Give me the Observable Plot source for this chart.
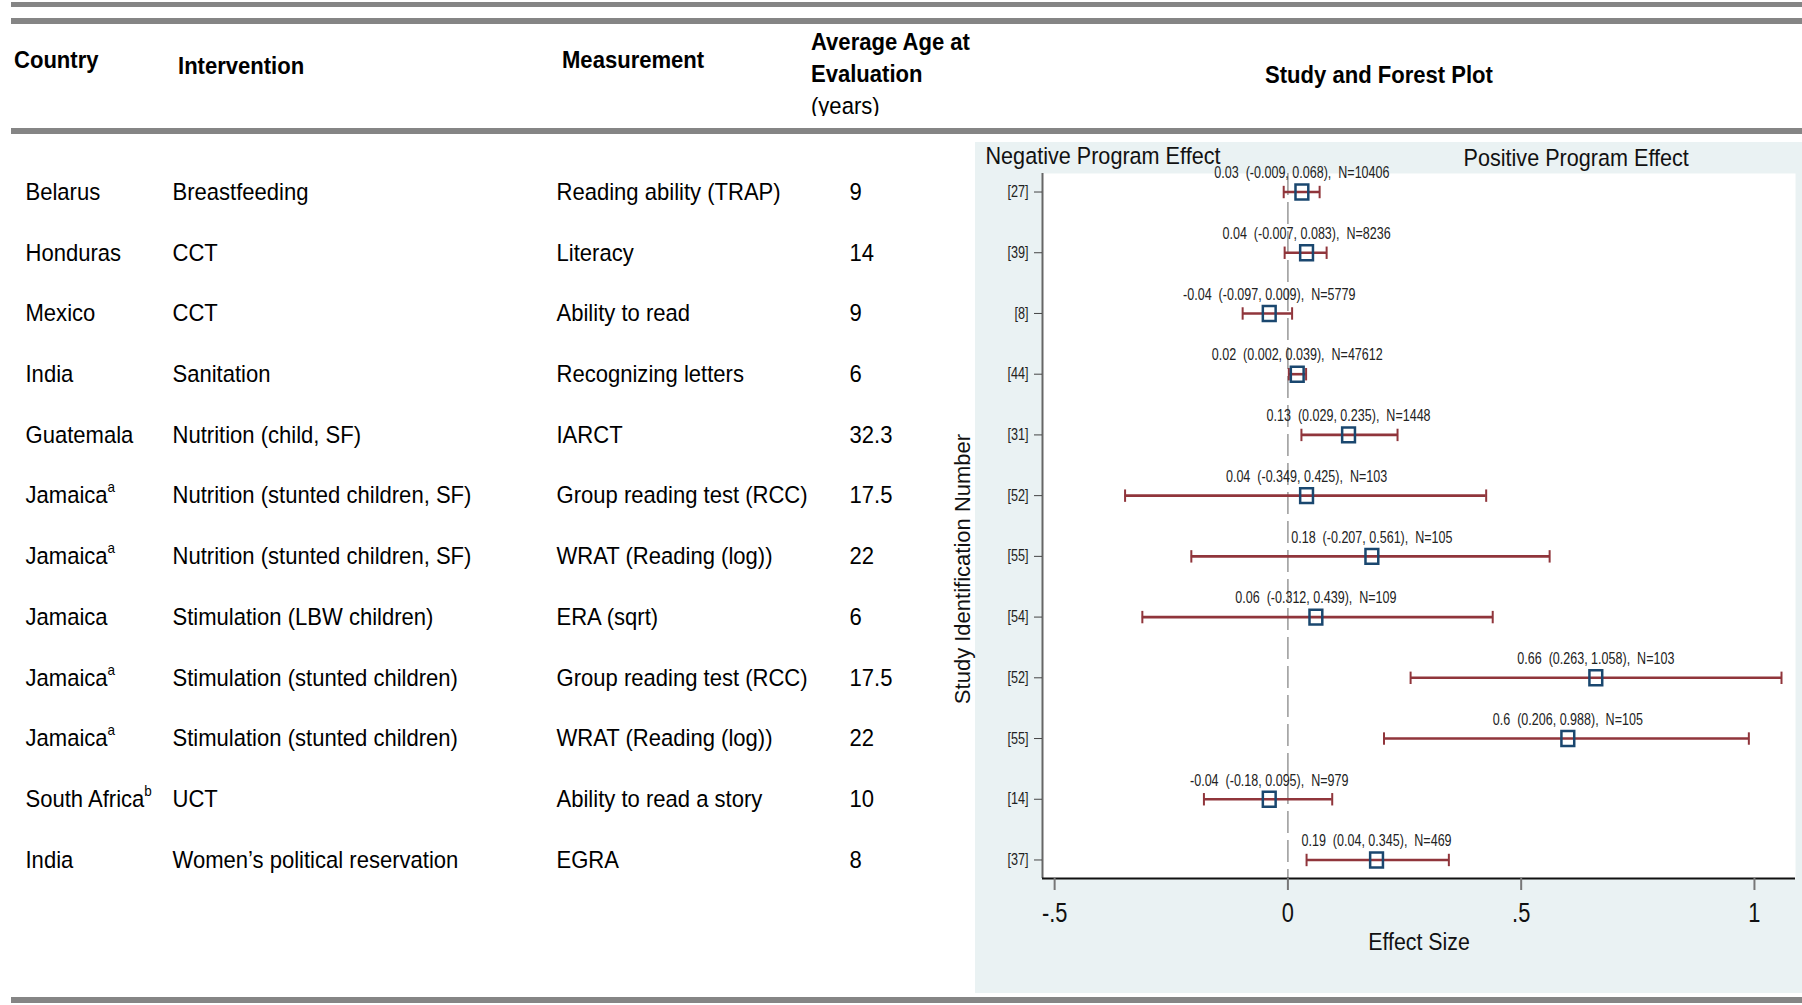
<!DOCTYPE html>
<html><head><meta charset="utf-8">
<script src="https://cdn.jsdelivr.net/npm/d3@7"></script>
<script src="https://cdn.jsdelivr.net/npm/@observablehq/plot@0.6"></script>
<style>
html,body{margin:0;padding:0;background:#fff;}
#page{position:relative;width:1802px;height:1005px;overflow:hidden;font-family:"Liberation Sans",Arial,sans-serif;color:#000;}
.rule{position:absolute;left:11px;width:1791px;background:#858585;}
.hd{position:absolute;font-weight:bold;font-size:24.5px;white-space:nowrap;line-height:24px;transform:scaleX(0.9);transform-origin:0 50%;}
.hd.reg{font-weight:normal;}
.clip{position:absolute;overflow:hidden;}
#panelbg{position:absolute;left:975px;top:142px;width:827px;height:851px;background:#EAF2F3;}
#table,#forest{position:absolute;top:142px;}
#table{left:0;width:940px;}
#forest{left:940px;width:862px;}
</style></head><body>
<div id="page">
  <div id="panelbg"></div>
  <div id="table"></div>
  <div id="forest"></div>
  <div class="hd" style="left:14px;top:48px;">Country</div>
  <div class="hd" style="left:178px;top:54px;">Intervention</div>
  <div class="hd" style="left:562px;top:48px;">Measurement</div>
  <div class="hd" style="left:811px;top:30px;">Average Age at</div>
  <div class="hd" style="left:811px;top:62px;">Evaluation</div>
  <div class="clip" style="left:805px;top:88px;width:120px;height:28px;">
    <div class="hd reg" style="left:6px;top:6px;">(years)</div>
  </div>
  <div class="hd" style="left:1379px;top:63px;transform:translateX(-50%) scaleX(0.9);transform-origin:50% 50%;">Study and Forest Plot</div>
  <div class="rule" style="top:2px;height:5px;"></div>
  <div class="rule" style="top:18px;height:6px;"></div>
  <div class="rule" style="top:128px;height:6px;"></div>
  <div class="rule" style="top:997px;height:6px;"></div>
</div>
<script>
// ---------------- data ----------------
const countries = ["Belarus","Honduras","Mexico","India","Guatemala","Jamaica","Jamaica","Jamaica","Jamaica","Jamaica","South Africa","India"];
const countryNotes = ["","","","","","a","a","","a","a","b",""];
const interventions = ["Breastfeeding","CCT","CCT","Sanitation","Nutrition (child, SF)","Nutrition (stunted children, SF)","Nutrition (stunted children, SF)","Stimulation (LBW children)","Stimulation (stunted children)","Stimulation (stunted children)","UCT","Women\u2019s political reservation"];
const measurements = ["Reading ability (TRAP)","Literacy","Ability to read","Recognizing letters","IARCT","Group reading test (RCC)","WRAT (Reading (log))","ERA (sqrt)","Group reading test (RCC)","WRAT (Reading (log))","Ability to read a story","EGRA"];
const ages = ["9","14","9","6","32.3","17.5","22","6","17.5","22","10","8"];
const studyIds = ["[27]","[39]","[8]","[44]","[31]","[52]","[55]","[54]","[52]","[55]","[14]","[37]"];
const effects = [0.03,0.04,-0.04,0.02,0.13,0.04,0.18,0.06,0.66,0.6,-0.04,0.19];
const ciLow  = [-0.009,-0.007,-0.097,0.002,0.029,-0.349,-0.207,-0.312,0.263,0.206,-0.18,0.04];
const ciHigh = [0.068,0.083,0.009,0.039,0.235,0.425,0.561,0.439,1.058,0.988,0.095,0.345];
const sampleN = [10406,8236,5779,47612,1448,103,105,109,103,105,979,469];
const xTicks = [-0.5,0,0.5,1];
const xTickLabels = ["-.5","0",".5","1"];

// ---------------- build ----------------
const rows = countries.map((c,i)=>({
  i, country: countryNotes[i] ? c + "^" + countryNotes[i] : c,
  intervention: interventions[i], measurement: measurements[i], age: ages[i],
  est: effects[i], lo: ciLow[i], hi: ciHigh[i], n: sampleN[i],
  label: `${effects[i]}\u00A0\u00A0(${ciLow[i]}, ${ciHigh[i]}),\u00A0\u00A0N=${sampleN[i]}`
}));

const SANS = '"Liberation Sans",Arial,sans-serif';
const MAROON = "#90353B", NAVY = "#1A476F";
const H = 851, MT = 31, MB = 115;
const pad = 0.305;
const yDomain = [-pad, rows.length - 1 + pad];
const xDomain = [-0.526, 1.088];

const vbar = {draw(ctx, size){ const h = Math.sqrt(size)/2; ctx.moveTo(0,-h); ctx.lineTo(0,h); }};
const box = {draw(ctx, size){ const s = Math.sqrt(size); ctx.rect(-s*0.43, -s*0.5, s*0.86, s); }};

// horizontally condense svg texts (about their anchor) according to their font size
function condense(svg, factors){
  svg.querySelectorAll("text").forEach(el => {
    const fs = parseFloat(getComputedStyle(el).fontSize);
    const s = factors[fs];
    if (!s) return;
    const bb = el.getBBox();
    const anchor = getComputedStyle(el).textAnchor;
    const ax = anchor === "middle" ? bb.x + bb.width/2 : anchor === "end" ? bb.x + bb.width : bb.x;
    const prev = el.getAttribute("transform") || "";
    el.setAttribute("transform", `${prev} translate(${ax},0) scale(${s},1) translate(${-ax},0)`);
  });
}

// table
const colStyle = {y: "i", frameAnchor: "left", textAnchor: "start", lineAnchor: "middle", fontSize: 24.5, fontFamily: SANS, fill: "#000"};
const table = Plot.plot({
  width: 940, height: H, marginTop: MT, marginBottom: MB, marginLeft: 0, marginRight: 0,
  style: {background: "transparent", fontFamily: SANS, overflow: "visible"},
  y: {domain: yDomain, reverse: true, axis: null},
  marks: [
    Plot.text(rows, {...colStyle, text: "country", dx: 25}),
    Plot.text(rows, {...colStyle, text: "intervention", dx: 172}),
    Plot.text(rows, {...colStyle, text: "measurement", dx: 556}),
    Plot.text(rows, {...colStyle, text: "age", dx: 849})
  ]
});
d3.select(table).selectAll("text").each(function(){
  const t = this.textContent;
  if (t.includes("^")) {
    const [base, sup] = t.split("^");
    this.textContent = base;
    const ts = document.createElementNS("http://www.w3.org/2000/svg","tspan");
    ts.setAttribute("dy","-11"); ts.setAttribute("font-size","15"); ts.textContent = sup;
    this.appendChild(ts);
  }
});
document.getElementById("table").appendChild(table);
condense(table, {24.5: 0.9});

// forest
const forest = Plot.plot({
  width: 862, height: H, marginTop: MT, marginBottom: MB, marginLeft: 102, marginRight: 7,
  style: {background: "transparent", fontFamily: SANS, overflow: "visible", color: "#111"},
  x: {domain: xDomain},
  y: {domain: yDomain, reverse: true},
  marks: [
    Plot.frame({fill: "white", stroke: "none"}),
    Plot.ruleX([0], {stroke: "#999", strokeWidth: 1.5, strokeDasharray: "22,7"}),
    Plot.ruleY(rows, {y: "i", x1: "lo", x2: "hi", stroke: MAROON, strokeWidth: 2.6}),
    Plot.dot(rows, {x: "lo", y: "i", symbol: vbar, r: 7, stroke: MAROON, strokeWidth: 2}),
    Plot.dot(rows, {x: "hi", y: "i", symbol: vbar, r: 7, stroke: MAROON, strokeWidth: 2}),
    Plot.dot(rows, {x: "est", y: "i", symbol: box, r: 8.4, stroke: NAVY, strokeWidth: 2.5, fill: "none"}),
    Plot.text(rows, {x: "est", y: "i", text: "label", dy: -19, lineAnchor: "middle", fontSize: 16.5, fill: "#222"}),
    Plot.ruleX([xDomain[0]], {stroke: "#666", strokeWidth: 2}),
    Plot.ruleY([yDomain[1]], {stroke: "#111", strokeWidth: 2}),
    Plot.axisY({ticks: rows.map(d => d.i), tickFormat: d => studyIds[d], tickSize: 8, tickPadding: 6,
      fontSize: 16, stroke: "#444", fill: "#222", label: null}),
    Plot.axisX({ticks: xTicks, tickFormat: d => xTickLabels[xTicks.indexOf(d)], tickSize: 12, tickPadding: 12,
      fontSize: 28, stroke: "#777", strokeWidth: 2, fill: "#111", label: null}),
    Plot.text(["Effect Size"], {text: d => d, frameAnchor: "bottom", lineAnchor: "middle", dy: 64, fontSize: 24, fill: "#111"}),
    Plot.text(["Study Identification Number"], {text: d => d, frameAnchor: "left", textAnchor: "middle", lineAnchor: "middle", rotate: -90, dx: -80, dy: 43, fontSize: 22, fill: "#111"}),
    Plot.text(["Negative Program Effect"], {text: d => d, frameAnchor: "top-left", textAnchor: "start", lineAnchor: "middle", dx: -57, dy: -17, fontSize: 23.5, fill: "#111"}),
    Plot.text(["Positive Program Effect"], {text: d => d, frameAnchor: "top-left", textAnchor: "start", lineAnchor: "middle", dx: 421, dy: -15, fontSize: 23.5, fill: "#111"})
  ]
});
document.getElementById("forest").appendChild(forest);
condense(forest, {16.5: 0.76, 16: 0.79, 28: 0.78, 24: 0.89, 23.5: 0.92});
</script>
</body></html>
